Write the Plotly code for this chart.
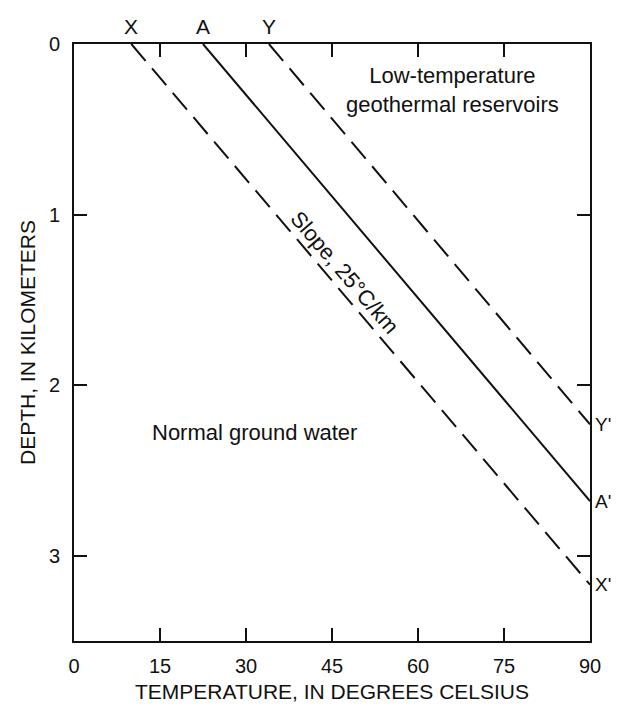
import plotly.graph_objects as go

# Data
line_names = ["X", "A", "Y"]
line_dash = ["dash", "solid", "dash"]
start_temp = [10, 22.5, 34]      # deg C at depth 0
start_depth = [0, 0, 0]
end_temp = [90, 90, 90]          # deg C at right edge
end_depth = [3.17, 2.68, 2.23]   # km at right edge

x_ticks = [0, 15, 30, 45, 60, 75, 90]
y_ticks = [0, 1, 2, 3]

FONT = "Liberation Sans, Arial, sans-serif"
INK = "#111111"

fig = go.Figure()
for name, dash, t0, d0, t1, d1 in zip(line_names, line_dash, start_temp, start_depth, end_temp, end_depth):
    fig.add_trace(go.Scatter(
        x=[t0, t1], y=[d0, d1], mode="lines", name=name,
        line=dict(color=INK, width=2, dash="22px,10px" if dash == "dash" else "solid"),
        showlegend=False, hoverinfo="skip",
    ))

annotations = []
# Top labels
for name, t0 in zip(line_names, start_temp):
    annotations.append(dict(x=t0, y=0, xref="x", yref="y", text=name, showarrow=False,
                            yanchor="bottom", yshift=4, font=dict(size=21, color=INK, family=FONT)))
# Right labels
for name, t1, d1 in zip(line_names, end_temp, end_depth):
    annotations.append(dict(x=t1, y=d1, xref="x", yref="y", text=name + "'", showarrow=False,
                            xanchor="left", xshift=3, font=dict(size=19, color=INK, family=FONT)))

annotations += [
    dict(x=66, y=0.27, xref="x", yref="y", text="Low-temperature<br>geothermal reservoirs",
         showarrow=False, font=dict(size=22, color=INK, family=FONT)),
    dict(x=31.5, y=2.28, xref="x", yref="y", text="Normal ground water",
         showarrow=False, font=dict(size=22, color=INK, family=FONT)),
    dict(x=47.2, y=1.34, xref="x", yref="y", text="Slope, 25°C/km", textangle=49.5,
         showarrow=False, font=dict(size=22, color=INK, family=FONT)),
]

fig.update_layout(
    width=620, height=708,
    margin=dict(l=66, r=38, t=36, b=75),
    paper_bgcolor="white", plot_bgcolor="white",
    font=dict(family=FONT, color=INK),
    annotations=annotations,
    xaxis=dict(
        range=[0, 90], tickvals=x_ticks, ticktext=[str(v) for v in x_ticks],
        showline=True, linecolor=INK, linewidth=2, mirror="allticks",
        ticks="inside", ticklen=13, tickwidth=1.5, tickcolor=INK,
        showgrid=False, zeroline=False,
        tickfont=dict(size=20, family=FONT, color=INK), ticklabelstandoff=6,
        title=dict(text="TEMPERATURE, IN DEGREES CELSIUS", font=dict(size=21, family=FONT, color=INK), standoff=8),
    ),
    yaxis=dict(
        range=[3.5, 0], tickvals=y_ticks, ticktext=[str(v) for v in y_ticks],
        showline=True, linecolor=INK, linewidth=2, mirror="allticks",
        ticks="inside", ticklen=13, tickwidth=1.5, tickcolor=INK,
        showgrid=False, zeroline=False,
        tickfont=dict(size=20, family=FONT, color=INK), ticklabelstandoff=8,
        title=dict(text="DEPTH, IN KILOMETERS", font=dict(size=21, family=FONT, color=INK), standoff=8),
    ),
)

fig.write_html("out.html")
